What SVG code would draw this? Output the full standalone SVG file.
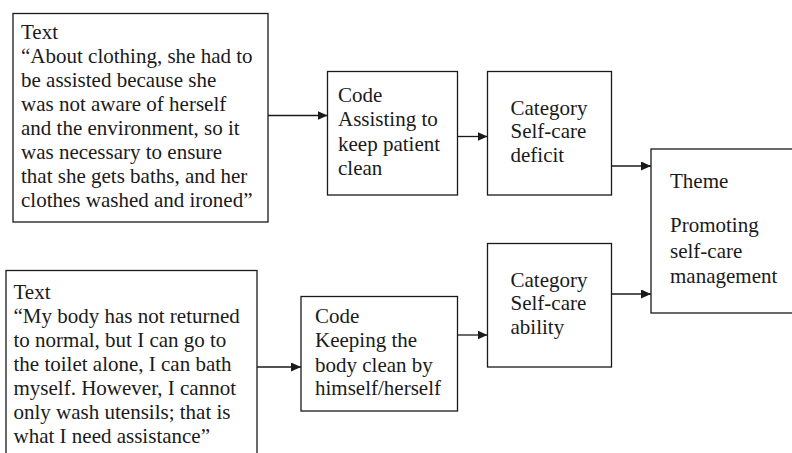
<svg xmlns="http://www.w3.org/2000/svg" width="792" height="453" viewBox="0 0 792 453">
<style>
.box{fill:#fff;stroke:#1a1a1a;stroke-width:1.3}
.t{font-family:"Liberation Serif","Times New Roman",serif;font-size:21px;fill:#1a1a1a}
.c{stroke:#1a1a1a;stroke-width:1.3;fill:none}
</style>
<defs>
<marker id="ah" viewBox="0 0 10 10" refX="10" refY="5" markerWidth="10" markerHeight="9" markerUnits="userSpaceOnUse" orient="auto" preserveAspectRatio="none">
<path d="M0,0 L10,5 L0,10 z" fill="#1a1a1a"/>
</marker>
</defs>
<rect width="792" height="453" fill="#fff"/>
<g id="connectors">
<line class="c" x1="268" y1="115.5" x2="327.5" y2="115.5" marker-end="url(#ah)"/>
<line class="c" x1="457.5" y1="136.5" x2="487.5" y2="136.5" marker-end="url(#ah)"/>
<line class="c" x1="611.5" y1="166" x2="651" y2="166" marker-end="url(#ah)"/>
<line class="c" x1="257" y1="367" x2="301" y2="367" marker-end="url(#ah)"/>
<line class="c" x1="457.5" y1="335" x2="487.5" y2="335" marker-end="url(#ah)"/>
<line class="c" x1="611.5" y1="294" x2="651" y2="294" marker-end="url(#ah)"/>
</g>
<g id="text1">
<rect class="box" x="13" y="13.5" width="255" height="208.5"/>
<text class="t" x="21" y="39">Text</text>
<text class="t" x="21" y="63">“About clothing, she had to</text>
<text class="t" x="21" y="87">be assisted because she</text>
<text class="t" x="21" y="111">was not aware of herself</text>
<text class="t" x="21" y="135">and the environment, so it</text>
<text class="t" x="21" y="159">was necessary to ensure</text>
<text class="t" x="21" y="183">that she gets baths, and her</text>
<text class="t" x="21" y="207">clothes washed and ironed”</text>
</g>
<g id="text2">
<rect class="box" x="6" y="270.5" width="251" height="200"/>
<text class="t" x="13.5" y="299">Text</text>
<text class="t" x="13.5" y="323">“My body has not returned</text>
<text class="t" x="13.5" y="347">to normal, but I can go to</text>
<text class="t" x="13.5" y="371">the toilet alone, I can bath</text>
<text class="t" x="13.5" y="395">myself. However, I cannot</text>
<text class="t" x="13.5" y="419">only wash utensils; that is</text>
<text class="t" x="13.5" y="443">what I need assistance”</text>
</g>
<g id="code1">
<rect class="box" x="327.5" y="71.5" width="130" height="123.5"/>
<text class="t" x="338" y="101.5">Code</text>
<text class="t" x="338" y="126">Assisting to</text>
<text class="t" x="338" y="150.5">keep patient</text>
<text class="t" x="338" y="175">clean</text>
</g>
<g id="category1">
<rect class="box" x="487.5" y="71.5" width="124" height="123.5"/>
<text class="t" x="510.5" y="114.5">Category</text>
<text class="t" x="510.5" y="138">Self-care</text>
<text class="t" x="510.5" y="161.5">deficit</text>
</g>
<g id="code2">
<rect class="box" x="301" y="296.5" width="156.5" height="114.5"/>
<text class="t" x="315" y="323">Code</text>
<text class="t" x="315" y="347">Keeping the</text>
<text class="t" x="315" y="371.5">body clean by</text>
<text class="t" x="315" y="395">himself/herself</text>
</g>
<g id="category2">
<rect class="box" x="487.5" y="243.5" width="124" height="123.5"/>
<text class="t" x="510.5" y="286.5">Category</text>
<text class="t" x="510.5" y="310">Self-care</text>
<text class="t" x="510.5" y="334">ability</text>
</g>
<g id="theme">
<rect class="box" x="651" y="149" width="150" height="164"/>
<text class="t" x="670" y="188">Theme</text>
<text class="t" x="670" y="232">Promoting</text>
<text class="t" x="670" y="257.5">self-care</text>
<text class="t" x="670" y="283">management</text>
</g>
</svg>
